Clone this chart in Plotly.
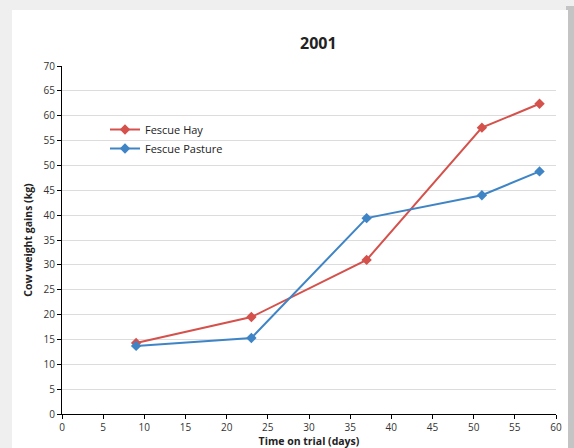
import plotly.graph_objects as go

days = [9, 23, 37, 51, 58]
fescue_hay = [14.3, 19.5, 31.0, 57.6, 62.4]
fescue_pasture = [13.7, 15.3, 39.4, 44.0, 48.8]
series_names = ["Fescue Hay", "Fescue Pasture"]
x_ticks = list(range(0, 61, 5))
y_ticks = list(range(0, 71, 5))

RED = "#d4514c"
BLUE = "#3f85c6"
FONT = "Open Sans"

fig = go.Figure()
for name, vals, col in [(series_names[0], fescue_hay, RED), (series_names[1], fescue_pasture, BLUE)]:
    fig.add_trace(go.Scatter(
        x=days, y=vals, name=name, mode="lines+markers",
        line=dict(color=col, width=2),
        marker=dict(symbol="diamond", size=8, color=col),
    ))

# plot area in px: left 62, right 556, top 66, bottom 414
W, H = 574, 448
L, R, T, B = 62, 556, 66, 414
pw, ph = R - L, B - T

def px2x(p):
    return (p - L) / pw

def px2y(p):
    return (B - p) / ph

shapes = [
    # right shadow
    dict(type="rect", xref="paper", yref="paper", x0=px2x(566), x1=px2x(580),
         y0=px2y(6), y1=px2y(470), fillcolor="#c4c4c4", line=dict(width=0), layer="below"),
    # card
    dict(type="rect", xref="paper", yref="paper", x0=px2x(12), x1=px2x(568),
         y0=px2y(10), y1=px2y(470), fillcolor="white", line=dict(width=0), layer="below"),
]

fig.update_layout(
    width=W, height=H,
    margin=dict(l=L, r=W - R, t=T, b=H - B, pad=0, autoexpand=False),
    paper_bgcolor="#efefef",
    plot_bgcolor="white",
    font=dict(family=FONT, size=10, color="#333333"),
    shapes=shapes,
    showlegend=True,
    legend=dict(x=px2x(105), y=px2y(115), xanchor="left", yanchor="top",
                bgcolor="rgba(0,0,0,0)", font=dict(size=11, color="#222222"),
                tracegroupgap=0, itemwidth=30),
    annotations=[
        dict(text="<b>2001</b>", xref="paper", yref="paper", x=px2x(318), y=px2y(43),
             xanchor="center", yanchor="middle", showarrow=False,
             font=dict(size=16, color="#222222", family=FONT)),
    ],
    xaxis=dict(
        range=[0, 60], tickvals=x_ticks, ticks="outside", ticklen=4, tickcolor="#000",
        showline=True, linecolor="#000", linewidth=1, showgrid=False, zeroline=False,
        tickfont=dict(size=10, color="#333333"), automargin=False,
        title=dict(text="<b>Time on trial (days)</b>", font=dict(size=10.5, color="#222222"), standoff=2),
    ),
    yaxis=dict(
        range=[0, 70], tickvals=y_ticks, ticks="outside", ticklen=4, tickcolor="#000",
        showline=True, linecolor="#000", linewidth=1, showgrid=True, gridcolor="#dcdcdc",
        gridwidth=1, zeroline=False, automargin=False,
        tickfont=dict(size=10, color="#333333"),
        title=dict(text="<b>Cow weight gains (kg)</b>", font=dict(size=10.5, color="#222222"), standoff=8),
    ),
)

fig.write_html("out.html", config={"displayModeBar": False},
               post_script="document.body.style.margin='0';document.body.style.overflow='hidden';")
